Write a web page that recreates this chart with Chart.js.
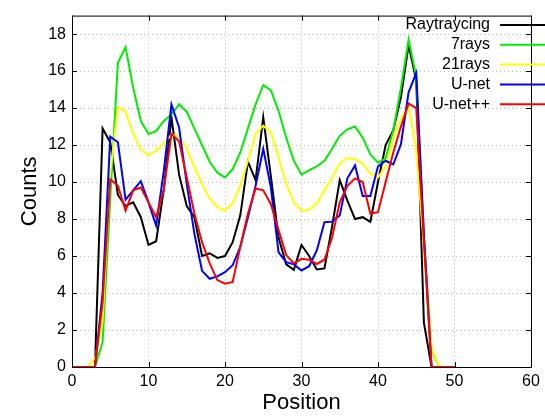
<!DOCTYPE html>
<html>
<head>
<meta charset="utf-8">
<script src="https://cdn.jsdelivr.net/npm/chart.js@4"></script>
<style>
  html, body { margin: 0; padding: 0; background: #fff; }
  #wrap { width: 545px; height: 416px; }
</style>
</head>
<body>
<div id="wrap"><canvas id="chart" width="545" height="416"></canvas></div>
<script>
// positions 0..50
const positions = [];
for (let p = 0; p <= 50; p++) positions.push(p);

const raytracing = [0, 0, 0, 0, 12.9, 12.15, 9.3, 8.7, 8.9, 8.1,
  6.6, 6.8, 9.6, 13.5, 10.4, 8.7, 8.1, 6.0, 6.15, 5.9,
  6.0, 6.75, 8.2, 11.1, 10.1, 13.5, 10.3, 7.0, 5.55, 5.25,
  6.6, 6.0, 5.27, 5.33, 7.6, 10.1, 9.0, 8.0, 8.1, 7.85,
  10.0, 12.0, 12.8, 14.6, 17.4, 15.5, 2.4, 0, 0, 0, 0];
const rays7 = [0, 0, 0, 0, 1.35, 9.1, 16.45, 17.3, 15.1, 13.3,
  12.6, 12.75, 13.3, 13.65, 14.2, 13.8, 12.9, 12.0, 11.1, 10.5,
  10.25, 10.7, 11.6, 12.9, 14.2, 15.25, 14.95, 13.85, 12.4, 11.15,
  10.4, 10.65, 10.85, 11.15, 11.8, 12.5, 12.85, 13.0, 12.4, 11.5,
  11.05, 11.3, 12.8, 15.1, 17.7, 15.7, 7.0, 0.9, 0, 0, 0];
const rays21 = [0, 0, 0, 0.45, 2.5, 10.5, 14.05, 13.8, 12.6, 11.75,
  11.45, 11.7, 12.1, 12.55, 12.5, 11.8, 10.8, 9.9, 9.1, 8.65,
  8.45, 8.85, 9.8, 11.15, 12.6, 13.05, 12.7, 11.35, 9.9, 8.9,
  8.45, 8.5, 8.85, 9.55, 10.25, 11.0, 11.3, 11.25, 11.0, 10.45,
  10.25, 10.85, 12.4, 13.4, 14.1, 11.7, 6.5, 1.0, 0, 0, 0];
const unet = [0, 0, 0, 0, 4.0, 12.45, 12.15, 9.05, 9.55, 10.05,
  8.9, 7.65, 10.6, 14.2, 12.95, 9.9, 7.2, 5.2, 4.77, 4.9,
  5.13, 5.5, 6.5, 8.1, 9.8, 11.8, 9.7, 6.2, 5.67, 5.55,
  5.22, 5.45, 6.3, 7.83, 7.86, 8.2, 10.2, 10.9, 9.25, 9.25,
  10.85, 11.15, 10.95, 12.05, 14.85, 15.9, 7.2, 0, 0, 0, 0];
const unetpp = [0, 0, 0, 0, 3.5, 10.15, 9.8, 8.45, 9.55, 9.7,
  8.9, 8.1, 9.6, 12.6, 12.2, 10.25, 8.3, 6.75, 5.6, 4.7,
  4.5, 4.6, 6.5, 8.3, 9.65, 9.55, 8.8, 7.4, 6.05, 5.6,
  5.85, 5.8, 5.57, 5.8, 7.0, 8.9, 9.8, 10.2, 10.0, 8.3,
  8.37, 10.0, 11.6, 13.0, 14.25, 14.0, 6.8, 0, 0, 0, 0];

const seriesNames = ['Raytraycing', '7rays', '21rays', 'U-net', 'U-net++'];
const seriesData = [raytracing, rays7, rays21, unet, unetpp];
const seriesColors = ['#000000', '#00ee00', '#ffff00', '#0000ff', '#ff0000'];

const xTicks = [0, 10, 20, 30, 40, 50, 60];
const yTicks = [0, 2, 4, 6, 8, 10, 12, 14, 16, 18];

const FONT = '"Liberation Sans", Arial, sans-serif';

const frame = {
  id: 'frame',
  beforeDraw(chart) {
    const c = chart.ctx;
    c.save();
    c.fillStyle = '#fff';
    c.fillRect(0, 0, chart.width, chart.height);
    c.restore();
  },
  afterDraw(chart) {
    const c = chart.ctx, a = chart.chartArea;
    const xs = chart.scales.x, ys = chart.scales.y;
    c.save();
    c.strokeStyle = '#000';
    c.lineWidth = 1;
    c.strokeRect(a.left + 0.5, a.top + 0.5, a.right - a.left, a.bottom - a.top);
    // inward tick marks
    c.beginPath();
    xTicks.forEach(v => {
      const x = Math.round(xs.getPixelForValue(v)) + 0.5;
      c.moveTo(x, a.bottom); c.lineTo(x, a.bottom - 5);
      c.moveTo(x, a.top); c.lineTo(x, a.top + 5);
    });
    yTicks.forEach(v => {
      const y = Math.round(ys.getPixelForValue(v)) + 0.5;
      c.moveTo(a.left, y); c.lineTo(a.left + 5, y);
      c.moveTo(a.right, y); c.lineTo(a.right - 5, y);
    });
    c.stroke();

    // legend, gnuplot style: text right aligned, sample on the right
    c.font = '16px ' + FONT;
    c.textAlign = 'right';
    c.textBaseline = 'middle';
    chart.data.datasets.forEach((ds, i) => {
      const y = 25 + i * 19.8;
      c.fillStyle = '#000';
      c.fillText(ds.label, 490, y);
      c.strokeStyle = ds.borderColor;
      c.lineWidth = 2;
      c.beginPath();
      c.moveTo(500, y); c.lineTo(545, y);
      c.stroke();
    });
    c.restore();
  }
};

new Chart(document.getElementById('chart').getContext('2d'), {
  type: 'line',
  data: {
    datasets: seriesNames.map((name, i) => ({
      label: name,
      data: positions.map((p, j) => ({ x: p, y: seriesData[i][j] })),
      borderColor: seriesColors[i],
      borderWidth: 2,
      pointRadius: 0,
      tension: 0,
      fill: false,
      order: seriesNames.length - i
    }))
  },
  options: {
    responsive: false,
    animation: false,
    layout: { padding: { top: 15, right: 14, left: 0, bottom: 0 } },
    plugins: { legend: { display: false }, tooltip: { enabled: false } },
    scales: {
      x: {
        type: 'linear',
        min: 0, max: 60,
        afterBuildTicks: s => { s.ticks = xTicks.map(v => ({ value: v })); },
        afterFit: s => { s.height = 49; },
        border: { display: false, dash: [1, 3] },
        grid: {
          color: ctx => (ctx.tick.value === 0 || ctx.tick.value === 60) ? 'rgba(0,0,0,0)' : '#bdbdbd',
          lineWidth: 1,
          drawTicks: false
        },
        ticks: { color: '#000', font: { family: FONT, size: 16 }, padding: 5, maxRotation: 0 },
        title: { display: true, text: 'Position', color: '#000', font: { family: FONT, size: 22 }, padding: { top: 0, bottom: 0 } }
      },
      y: {
        min: 0, max: 19,
        afterBuildTicks: s => { s.ticks = yTicks.map(v => ({ value: v })); },
        afterFit: s => { s.width = 72; },
        border: { display: false, dash: [1, 3] },
        grid: {
          color: ctx => ctx.tick.value === 0 ? 'rgba(0,0,0,0)' : '#bdbdbd',
          lineWidth: 1,
          drawTicks: false
        },
        ticks: { color: '#000', font: { family: FONT, size: 16 }, padding: 6 },
        title: { display: true, text: 'Counts', color: '#000', font: { family: FONT, size: 22 }, padding: { top: 17, bottom: 0 } }
      }
    }
  },
  plugins: [frame]
});
</script>
</body>
</html>
